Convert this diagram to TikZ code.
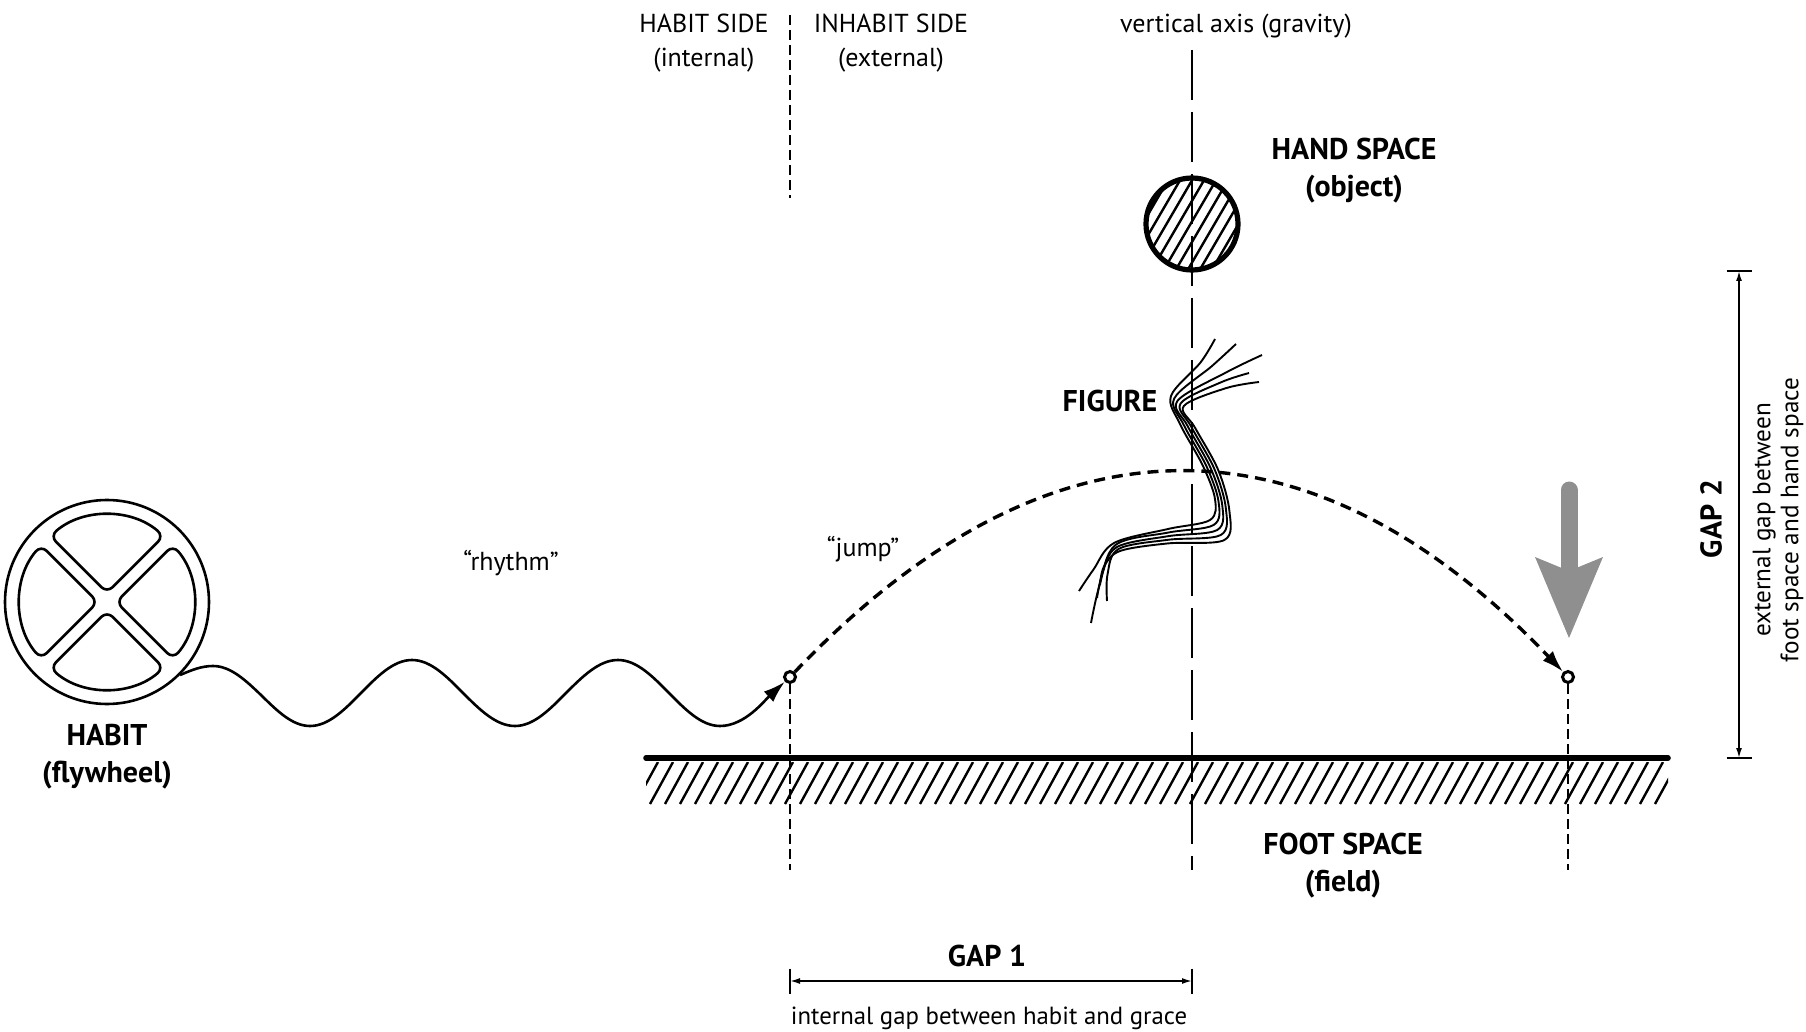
\documentclass[tikz,border=0pt]{standalone}
\usepackage{fontspec}
\setmainfont{PT Sans}
\usetikzlibrary{arrows.meta}
\definecolor{dropgray}{RGB}{143,143,143}
\begin{document}
\begin{tikzpicture}
[x=0.5pt,y=-0.5pt,
  plainlabel/.style={font=\fontsize{13}{17}\selectfont,align=center,inner sep=0pt},
  boldlabel/.style={font=\bfseries\fontsize{15}{18.5}\selectfont,align=center,inner sep=0pt},
  spotdecorate/.style={shape=circle,draw,line width=1.5pt,fill=white,minimum size=5.5pt,inner sep=0pt},
  guidedecorate/.style={line width=0.9pt,dash pattern=on 5pt off 2.5pt},
  axisdecorate/.style={line width=0.6pt,dash pattern=on 25pt off 6pt},
  hatchdecorate/.style={line width=1.2pt},
  strokedecorate/.style={line width=1.3pt},
  gapdecorate/.style={line width=0.8pt,{Latex[length=5pt,width=3pt]}-{Latex[length=5pt,width=3pt]}},
  tipdecorate/.style={-{Latex[length=11pt,width=7pt]}}]
\useasboundingbox (0,0) rectangle (1806,1032);
%% labels
\node (habside) at (704,43) [plainlabel] {HABIT SIDE\\(internal)};
\node (inhabside) at (891,43) [plainlabel] {INHABIT SIDE\\(external)};
\node (axislabel) at (1236,26) [plainlabel] {vertical axis (gravity)};
\node (handlabel) at (1354,171) [boldlabel] {HAND SPACE\\(object)};
\node (figlabel) at (1110,401) [boldlabel] {FIGURE};
\node (jumplabel) at (863,549) [plainlabel] {“jump”};
\node (rhythmlabel) at (511,563) [plainlabel] {“rhythm”};
\node (habitlabel) at (107,757) [boldlabel] {HABIT\\(flywheel)};
\node (footlabel) at (1343,866) [boldlabel] {FOOT SPACE\\(field)};
\node (gaponelabel) at (987,956) [boldlabel] {GAP 1};
\node (gaponetext) at (989,1018) [plainlabel,font=\fontsize{12.4}{14}\selectfont] {internal gap between habit and grace};
\node (gaptwolabel) at (1711,519) [boldlabel,rotate=90] {GAP 2};
\node (gaptwotext) at (1778,520) [plainlabel,rotate=90,font=\fontsize{12.6}{14}\selectfont] {external gap between\\foot space and hand space};
%% flywheel
\node (wheel) at (107,602) [shape=circle,draw,strokedecorate,minimum size=102pt,inner sep=0pt] {};
\foreach \t in {0,90,180,270} {
  \draw[strokedecorate,rounded corners=4pt,shift={(wheel.center)}]
    (\t:9.2) -- (\t-40.7:87) arc[start angle=\t-40.7,end angle=\t+40.7,radius=87] -- cycle;
}
%% object
\node (ball) at (1192,224) [shape=circle,draw,line width=2.6pt,minimum size=46pt,inner sep=0pt] {};
\begin{scope}
  \clip (1192,224) circle[radius=46];
  \foreach \x in {1080,1092,...,1240} \draw[hatchdecorate] (\x,290) -- ++(70,-120);
\end{scope}
%% field
\coordinate (groundL) at (646,758);
\coordinate (groundR) at (1668,758);
\begin{scope}
  \clip (646,762) rectangle (1668,804);
  \foreach \x in {620,635,...,1680} \draw[hatchdecorate] (\x,804) -- ++(23,-42);
\end{scope}
\draw[line width=2.8pt,line cap=round] (groundL) -- (groundR);
%% guides
\coordinate (sidetop) at (790,15);
\coordinate (sidebottom) at (790,198);
\coordinate (axistop) at (1192,50);
\coordinate (axisbottom) at (1192,870);
\coordinate (takeoffbase) at (790,870);
\coordinate (landingbase) at (1568,870);
\node (takeoff) at (790,677) [spotdecorate] {};
\node (landing) at (1568,677) [spotdecorate] {};
\draw[guidedecorate] (sidetop) -- (sidebottom);
\draw[axisdecorate] (axistop) -- (axisbottom);
\draw[guidedecorate] (takeoff) -- (takeoffbase);
\draw[guidedecorate] (landing) -- (landingbase);
%% figure
\foreach \tx/\ty/\k/\bx/\by in {1215/339/0/1079/591, 1236/344/1/1091/623, 1262/355/2/1097/598, 1249/373/3/1107/601, 1259/382/4/1100/585} {
  \draw[line width=0.95pt] plot[smooth,tension=0.55] coordinates {(\tx,\ty) ({(\tx+1186+2*\k)/2},{(\ty+386+2*\k)/2})
    ({1171+3.2*\k},{396+2.5*\k}) ({1180+3.8*\k},{424+\k}) ({1203+3.8*\k},{466+\k}) ({1215+3.6*\k},{499+3*\k})
    ({1210+3.6*\k},{520+5*\k}) (1168,{529+3.6*\k}) ({1114+1.5*\k},{543+2*\k}) ({(1108+\bx)/2},{(548+\by)/2}) (\bx,\by)};
}
%% rhythm and jump
\draw[strokedecorate,tipdecorate] (wheel.-45) sin (213,666) cos (262,696) sin (310,726) cos (361,693)
  sin (412,660) cos (463,693) sin (515,726) cos (566,693) sin (618,660) cos (669,693) sin (720,726)
  .. controls (745,726) and (765,700) .. (takeoff);
\draw[line width=1.7pt,dash pattern=on 5.5pt off 3.5pt,tipdecorate] (takeoff) .. controls (1049,406) and (1309,406) .. (landing);
%% gravity
\coordinate (dropstart) at (1569,490);
\coordinate (droptip) at (1569,638);
\draw[dropgray,line width=8.5pt,line cap=round,-{Stealth[length=40.5pt,width=34pt,inset=7pt,line width=0pt]}] (dropstart) -- (droptip);
%% gaps
\coordinate (gaponeL) at (790,981);
\coordinate (gaponeR) at (1192,981);
\coordinate (gaptwoT) at (1739,271);
\coordinate (gaptwoB) at (1739,758);
\draw[gapdecorate] (gaponeL) -- (gaponeR);
\draw[gapdecorate] (gaptwoT) -- (gaptwoB);
\foreach \p in {gaponeL,gaponeR} \draw[line width=0.8pt] ([yshift=6.25pt]\p) -- ([yshift=-6.25pt]\p);
\foreach \p in {gaptwoT,gaptwoB} \draw[line width=0.8pt] ([xshift=-6.25pt]\p) -- ([xshift=6.25pt]\p);
\end{tikzpicture}
\end{document}
